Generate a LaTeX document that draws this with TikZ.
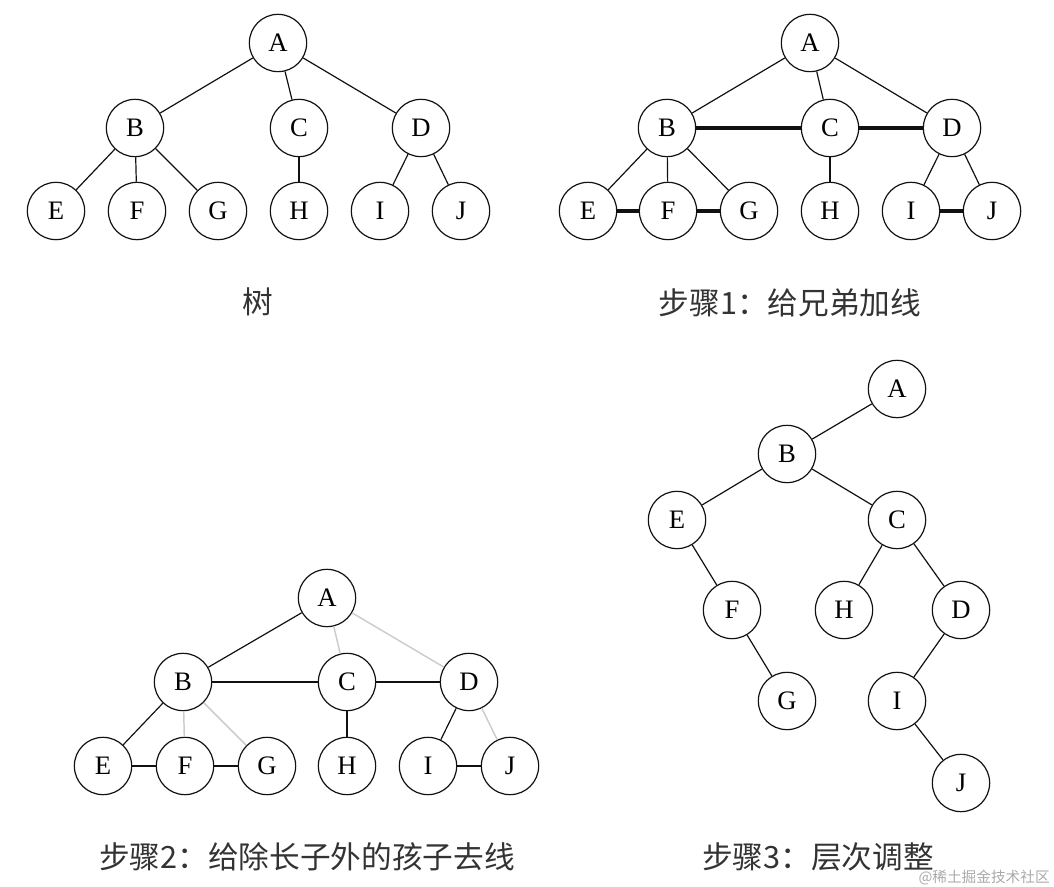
\documentclass[tikz,border=0pt]{standalone}
\usepackage{fontspec}
\setmainfont{Liberation Serif}
\newfontfamily\cjk{Noto Sans CJK SC}
\usetikzlibrary{positioning}
\definecolor{trblack}{HTML}{111111}
\definecolor{trgray}{HTML}{CCCCCC}
\definecolor{trcap}{HTML}{333333}
\definecolor{trmark}{HTML}{AAAAAA}

\begin{document}
\begin{tikzpicture}[
    x=0.75pt, y=-0.75pt,
    vert/.style={
        circle, draw=trblack, fill=white, line width=0.9pt,
        minimum size=43pt, inner sep=0pt, font=\fontsize{20}{24}\selectfont
    },
    every edge/.style={draw=trblack, line width=0.9pt},
    sibling/.style={draw=trblack, line width=3pt},
    dropped/.style={draw=trgray, line width=1.1pt},
    caption/.style={font=\cjk\fontsize{23}{28}\selectfont, text=trcap},
]
\useasboundingbox (0,0) rectangle (1054,887);

% ---- tree ----
\node[vert] (A1) at (278, 43)  {A};
\node[vert] (B1) at (135, 128) {B};
\node[vert] (C1) at (299, 128) {C};
\node[vert] (D1) at (421, 128) {D};
\node[vert] (E1) at (56, 211)  {E};
\node[vert] (F1) at (137, 211) {F};
\node[vert] (G1) at (218, 211) {G};
\node[vert] (H1) at (299, 211) {H};
\node[vert] (I1) at (380, 211) {I};
\node[vert] (J1) at (461, 211) {J};
\node[caption] (cap1) at (258, 302) {树};

\draw (A1) edge (B1) (A1) edge (C1) (A1) edge (D1);
\draw (B1) edge (E1) (B1) edge (F1) (B1) edge (G1);
\draw (C1) edge (H1) (D1) edge (I1) (D1) edge (J1);

% ---- step 1: link siblings ----
\node[vert] (A2) at (810, 43)  {A};
\node[vert] (B2) at (667, 128) {B};
\node[vert] (C2) at (830, 128) {C};
\node[vert] (D2) at (952, 128) {D};
\node[vert] (E2) at (588, 211) {E};
\node[vert] (F2) at (668, 211) {F};
\node[vert] (G2) at (749, 211) {G};
\node[vert] (H2) at (830, 211) {H};
\node[vert] (I2) at (911, 211) {I};
\node[vert] (J2) at (992, 211) {J};
\node[caption] (cap2) at (790, 303) {步骤1：给兄弟加线};

\draw (A2) edge (B2) (A2) edge (C2) (A2) edge (D2);
\draw (B2) edge (E2) (B2) edge (F2) (B2) edge (G2);
\draw (C2) edge (H2) (D2) edge (I2) (D2) edge (J2);
\draw[sibling] (B2) -- (C2) (C2) -- (D2);
\draw[sibling] (E2) -- (F2) (F2) -- (G2) (I2) -- (J2);

% ---- step 2: keep only first child ----
\node[vert] (A3) at (327, 598) {A};
\node[vert] (B3) at (183, 682) {B};
\node[vert] (C3) at (347, 682) {C};
\node[vert] (D3) at (469, 682) {D};
\node[vert] (E3) at (103, 766) {E};
\node[vert] (F3) at (185, 766) {F};
\node[vert] (G3) at (267, 766) {G};
\node[vert] (H3) at (347, 766) {H};
\node[vert] (I3) at (428, 766) {I};
\node[vert] (J3) at (510, 766) {J};
\node[caption] (cap3) at (307, 857) {步骤2：给除长子外的孩子去线};

\draw[dropped] (A3) -- (C3) (A3) -- (D3);
\draw[dropped] (B3) -- (F3) (B3) -- (G3) (D3) -- (J3);
\draw (A3) edge (B3) (B3) edge (C3) (C3) edge (D3);
\draw (B3) edge (E3) (E3) edge (F3) (F3) edge (G3);
\draw (C3) edge (H3) (D3) edge (I3) (I3) edge (J3);

% ---- step 3: rotate into binary tree ----
\node[vert] (A4) at (897, 389) {A};
\node[vert] (B4) at (787, 454) {B};
\node[vert] (E4) at (677, 520) {E};
\node[vert] (C4) at (897, 520) {C};
\node[vert] (F4) at (732, 610) {F};
\node[vert] (H4) at (844, 610) {H};
\node[vert] (D4) at (961, 610) {D};
\node[vert] (G4) at (787, 701) {G};
\node[vert] (I4) at (897, 701) {I};
\node[vert] (J4) at (961, 783) {J};
\node[caption] (cap4) at (818, 857) {步骤3：层次调整};

\draw (A4) edge (B4) (B4) edge (E4) (B4) edge (C4);
\draw (E4) edge (F4) (F4) edge (G4);
\draw (C4) edge (H4) (C4) edge (D4) (D4) edge (I4) (I4) edge (J4);

% ---- watermark ----
\node[font=\cjk\fontsize{11}{13}\selectfont, text=trmark, anchor=east, inner sep=0pt]
    (mark) at (1050, 878) {@稀土掘金技术社区};

\end{tikzpicture}
\end{document}
